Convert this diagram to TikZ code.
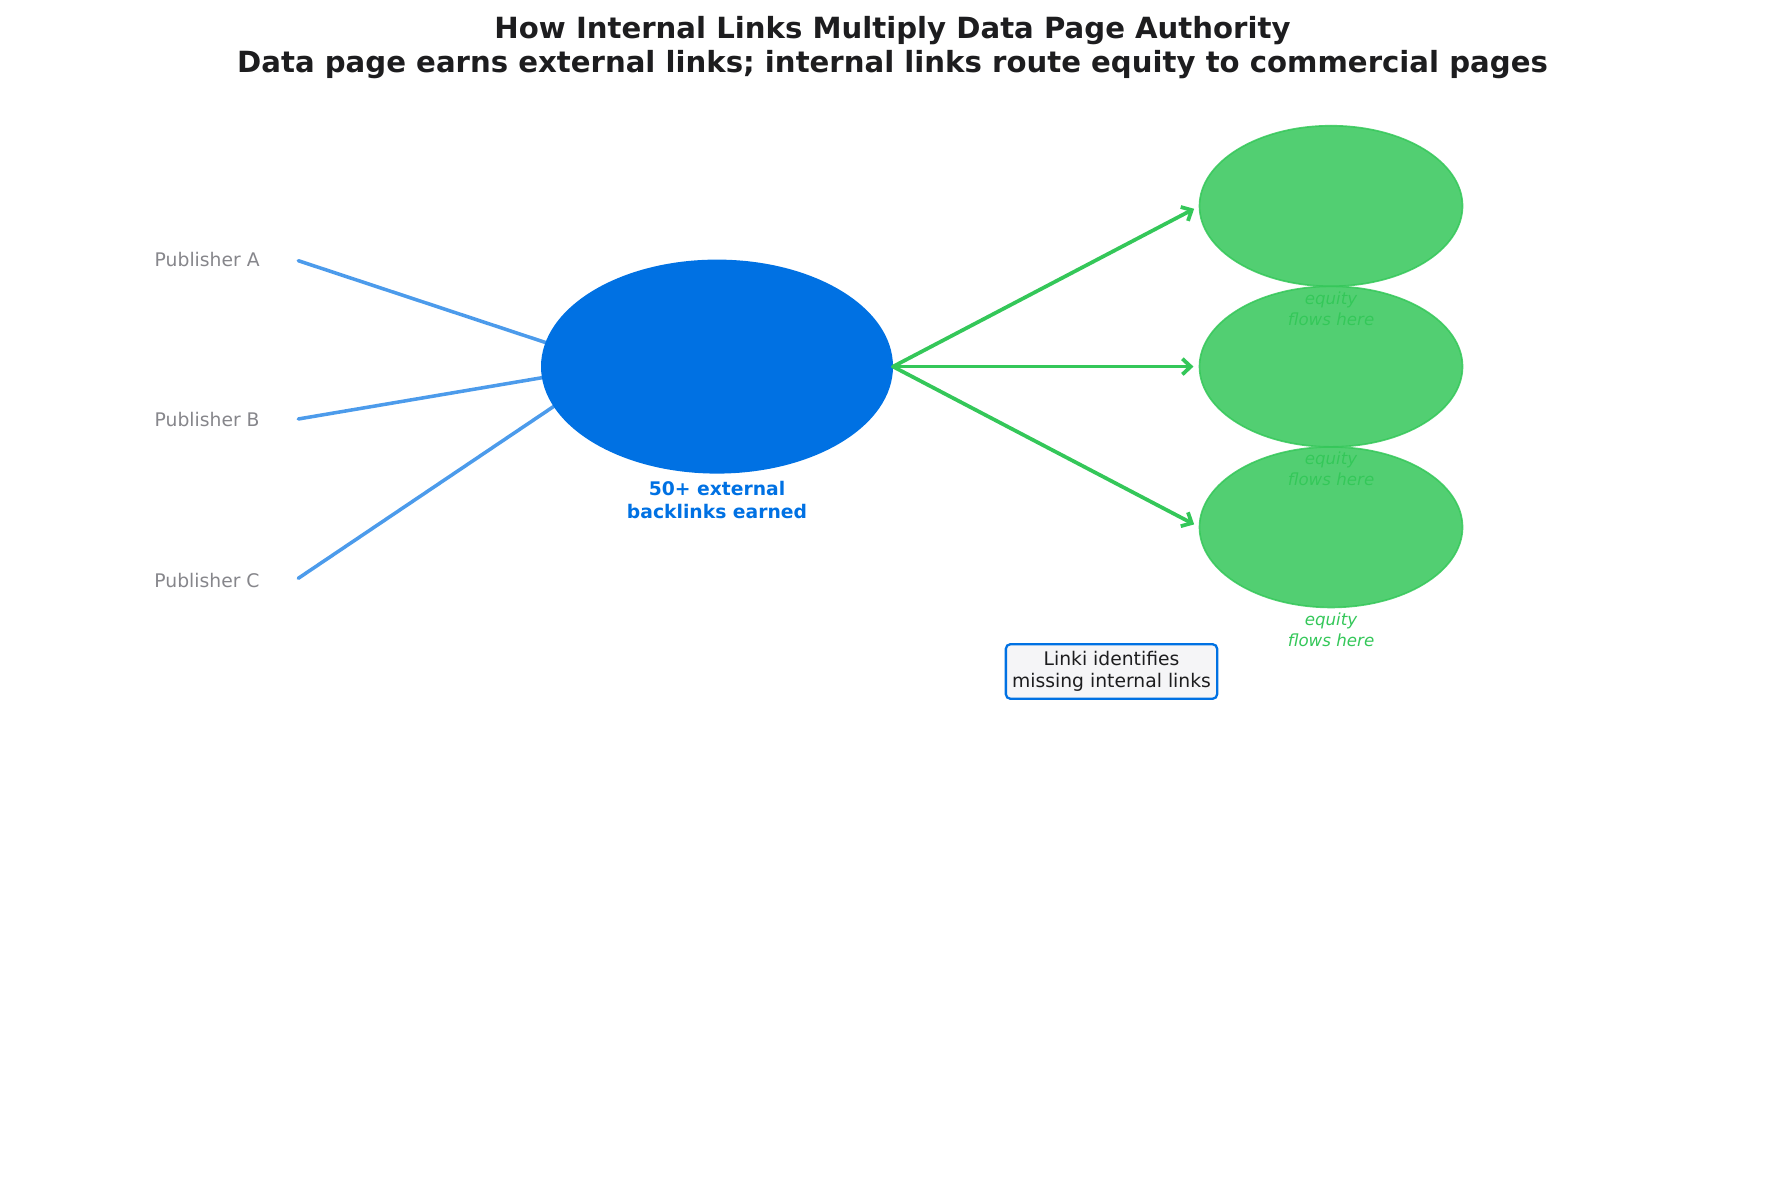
\documentclass[tikz,border=0pt]{standalone}
\usepackage{fontspec}
\setmainfont{DejaVu Sans}
\usetikzlibrary{shapes.geometric,arrows.meta}
\definecolor{appleblue}{HTML}{0071E3}
\definecolor{applegreen}{HTML}{34C759}
\definecolor{titlecol}{HTML}{1D1D1F}
\definecolor{pubgray}{HTML}{86868B}
\definecolor{boxfill}{HTML}{F5F5F7}
\tikzset{
  hubnode/.style={ellipse, fill=appleblue, inner sep=0pt, outer sep=0pt, minimum width=168.96pt, minimum height=102.72pt},
  pagenode/.style={ellipse, fill=applegreen, draw=applegreen, line width=0.8pt, opacity=0.85, inner sep=0pt, outer sep=0pt, minimum width=126.24pt, minimum height=77.04pt},
  publabel/.style={anchor=east, text=pubgray, font=\fontsize{9}{11}\selectfont, inner sep=0pt},
  eqlabel/.style={text=applegreen, align=center, font=\fontsize{8}{10}\selectfont\itshape, inner sep=0pt},
  inlink/.style={draw=appleblue, draw opacity=0.7, line width=1.7pt, line cap=round},
  outlink/.style={draw=applegreen, line width=1.8pt, line cap=round, -{Straight Barb[length=4pt,width=7.5pt,line width=1.8pt]}, shorten >=2.9pt},
  notebox/.style={draw=appleblue, fill=boxfill, line width=1.1pt, rounded corners=2.2pt, align=center, text=titlecol, font=\fontsize{9}{10.5}\selectfont, inner xsep=3pt, inner ysep=3.5pt}
}
\begin{document}
\begin{tikzpicture}[x=0.48pt, y=-0.48pt]
\useasboundingbox (0,0) rectangle (1785,1183);
% title
\node[align=center, text=titlecol, font=\fontsize{14}{16.2}\selectfont\bfseries, inner sep=0pt] (title) at (892.5,47.5) {How Internal Links Multiply Data Page Authority\\Data page earns external links; internal links route equity to commercial pages};
% publishers
\node[publabel] (pA) at (260,260) {Publisher A};
\node[publabel] (pB) at (260,420) {Publisher B};
\node[publabel] (pC) at (260,580.6) {Publisher C};
\coordinate (sA) at (298.3,260.7);
\coordinate (sB) at (298.3,419);
\coordinate (sC) at (298.3,578.3);
\coordinate (hubin) at (614.7,365.4);
\draw[inlink] (sA) -- (hubin);
\draw[inlink] (sB) -- (hubin);
\draw[inlink] (sC) -- (hubin);
% data page
\node[hubnode] (hub) at (717,366.6) {};
\node[text=appleblue, align=center, font=\fontsize{9}{11}\selectfont\bfseries, inner sep=0pt] (hublabel) at (717,500) {50+ external\\backlinks earned};
% commercial pages
\node[pagenode] (g1) at (1331,206) {};
\node[eqlabel] (l1) at (1331,308.5) {equity\\flows here};
\node[pagenode] (g2) at (1331,366.6) {};
\node[eqlabel] (l2) at (1331,469.1) {equity\\flows here};
\node[pagenode] (g3) at (1331,527.2) {};
\node[eqlabel] (l3) at (1331,629.7) {equity\\flows here};
\draw[outlink] (hub.east) -- (g1.west);
\draw[outlink] (hub.east) -- (g2.west);
\draw[outlink] (hub.east) -- (g3.west);
% note
\node[notebox] (note) at (1111.5,671.5) {Linki identifies\\missing internal links};
\end{tikzpicture}
\end{document}
